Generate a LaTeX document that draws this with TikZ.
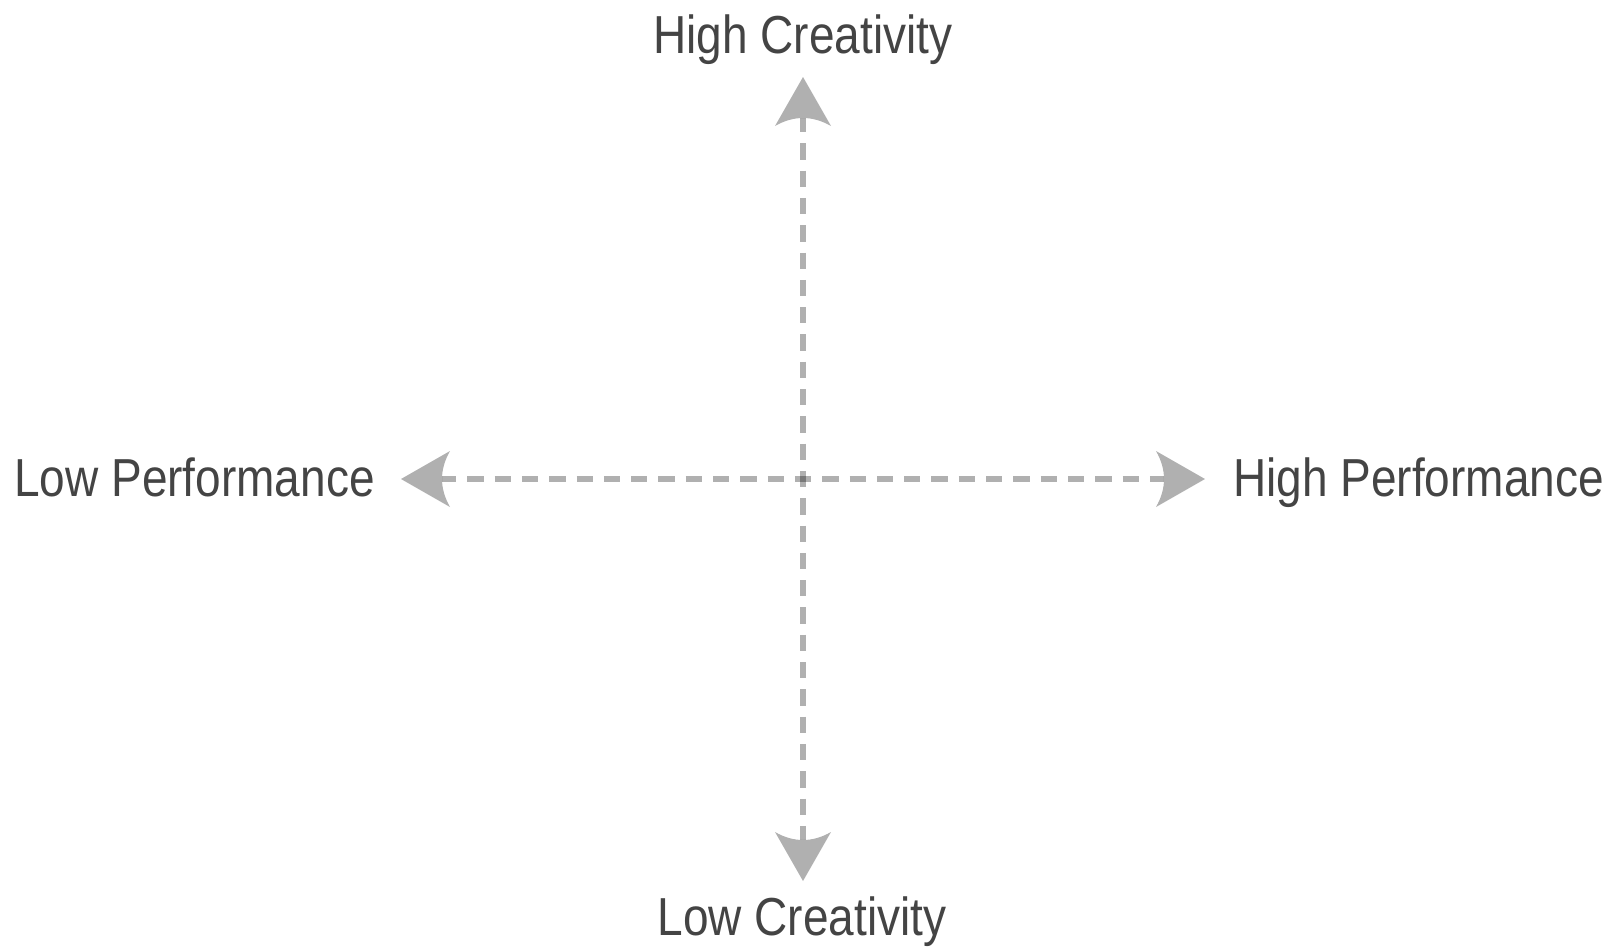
\documentclass[tikz,border=0pt]{standalone}
\usepackage{fontspec}
\setmainfont[FakeStretch=0.86]{Liberation Sans}
\usetikzlibrary{arrows.meta}

% Filled arrow head with straight flanks and a concave, curved back
\pgfdeclarearrow{
  name = CurvedHead,
  setup code = {
    \pgfarrowssettipend{0pt}
    \pgfarrowssetlineend{-41pt}
    \pgfarrowssetvisualbackend{-49pt}
    \pgfarrowssetbackend{-49pt}
    \pgfarrowsupperhullpoint{-49pt}{28pt}
    \pgfarrowsupperhullpoint{0pt}{0pt}
  },
  drawing code = {
    \pgfpathmoveto{\pgfpoint{0pt}{0pt}}
    \pgfpathlineto{\pgfpoint{-49pt}{28pt}}
    \pgfpathquadraticcurveto{\pgfpoint{-33pt}{0pt}}{\pgfpoint{-49pt}{-28pt}}
    \pgfpathclose
    \pgfusepathqfill
  }
}

\definecolor{labelgray}{HTML}{444444}

\tikzset{
  axisline/.style={draw=black, opacity=0.31, line width=5.5pt,
    dash pattern=on 16.3pt off 11pt, dash phase=2pt,
    arrows={CurvedHead-CurvedHead}},
  axislabel/.style={text=labelgray, inner sep=0pt, font=\fontsize{53.5}{60}\selectfont}
}

\begin{document}
\begin{tikzpicture}[x=1pt, y=-1pt]
  \useasboundingbox (0,0) rectangle (1614,946);

  % arrow tips of the two axes
  \coordinate (topTip) at (803,77);
  \coordinate (bottomTip) at (803,881);
  \coordinate (leftTip) at (401,479);
  \coordinate (rightTip) at (1205,479);

  % axis labels
  \node[axislabel, anchor=base] (highC) at (803,53) {High Creativity};
  \node[axislabel, anchor=base] (lowC) at (802,935) {Low Creativity};
  \node[axislabel, anchor=base east] (lowP) at (375,496) {Low Performance};
  \node[axislabel, anchor=base west] (highP) at (1233,496) {High Performance};

  % the two dashed double-headed axes
  \draw[axisline] (leftTip) -- (rightTip);
  \draw[axisline] (topTip) -- (bottomTip);
\end{tikzpicture}
\end{document}
